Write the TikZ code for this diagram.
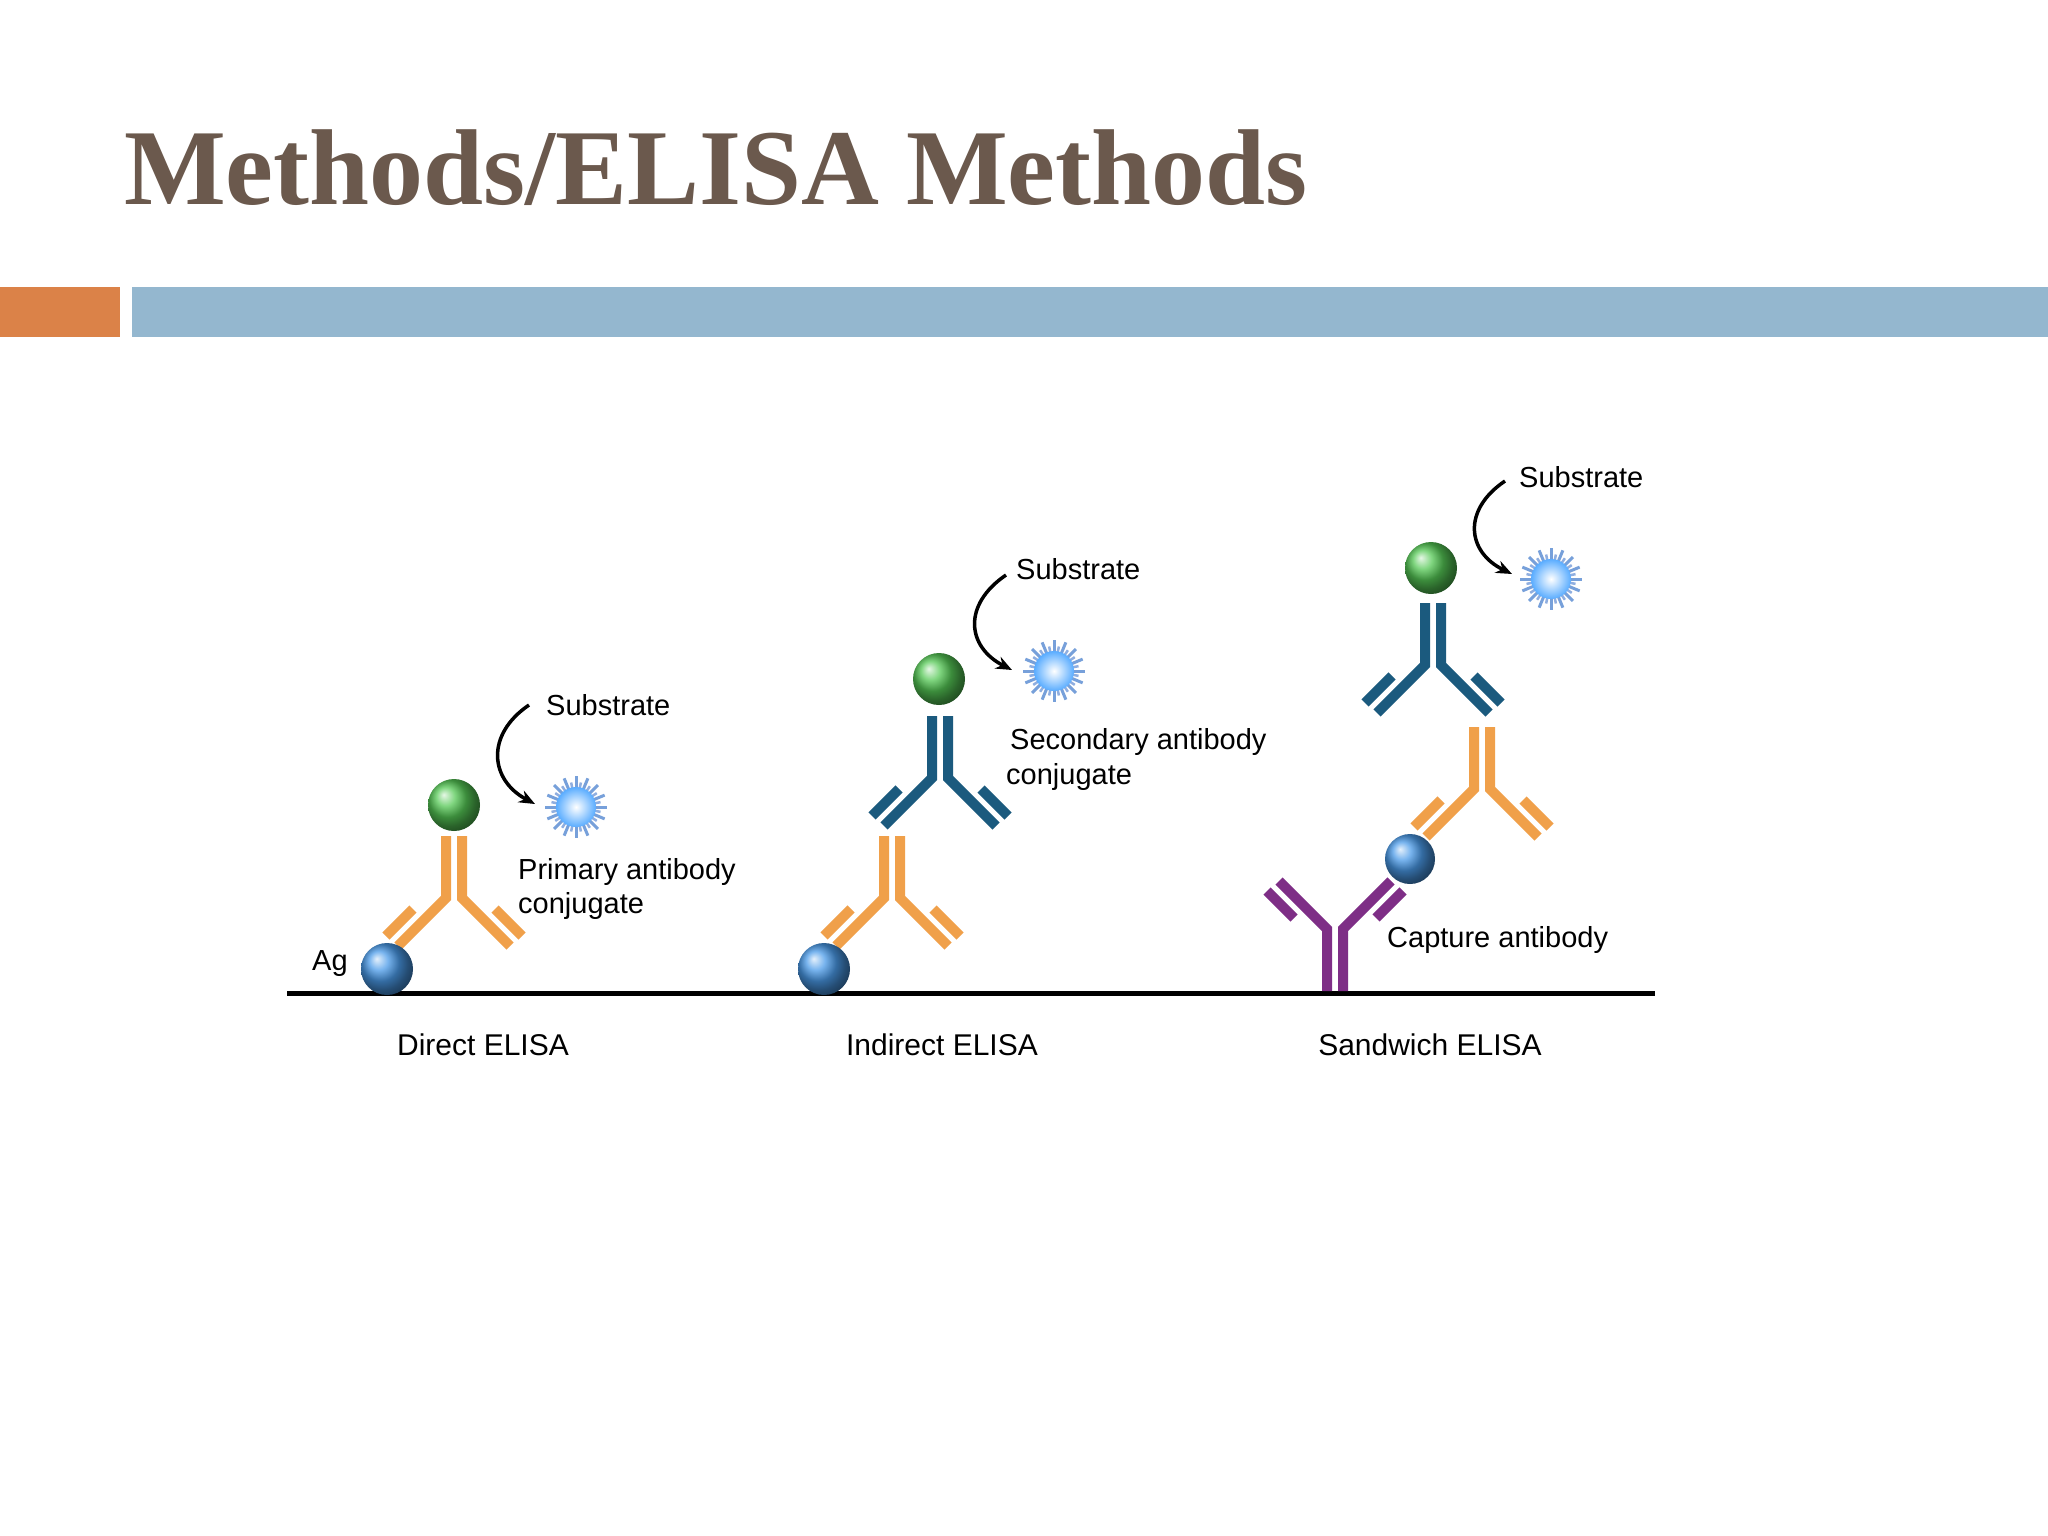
\documentclass[tikz,border=0pt]{standalone}
\usepackage{fontspec}
\setmainfont{Liberation Serif}
\setsansfont{Liberation Sans}
\usetikzlibrary{arrows.meta}
\definecolor{titlec}{HTML}{6B594D}
\definecolor{barorange}{HTML}{DB8248}
\definecolor{barblue}{HTML}{94B7CF}
\definecolor{aborange}{HTML}{F0A04A}
\definecolor{abblue}{HTML}{1B5A7E}
\definecolor{abpurple}{HTML}{7E2E86}
\definecolor{agblue}{HTML}{4A9AE8}
\definecolor{hrpgreen}{HTML}{55C855}
\tikzset{
  lbl/.style={font=\sffamily\fontsize{29}{32}\selectfont, anchor=west, inner sep=0pt},
  caplbl/.style={font=\sffamily\fontsize{30}{34}\selectfont, inner sep=0pt},
  subarrow/.style={line width=3.5pt, -{Stealth[length=16pt,width=13pt]}},
  pics/antibody/.style={code={
    \begin{scope}[line width=10pt, draw=#1]
    \draw (-8,0) -- (-8,62) -- (-56,110);
    \draw (8,0) -- (8,62) -- (56,110);
    \draw (-41,73) -- (-68,100);
    \draw (41,73) -- (68,100);
    \end{scope}}},
  pics/star/.style={code={
    \foreach \a in {0,22.5,...,337.5}{\draw[line width=3pt,color=cyan!50!blue!55] (\a:14) -- (\a:31);}
    \foreach \a in {11.25,33.75,...,348.75}{\draw[line width=2.5pt,color=cyan!50!blue!45] (\a:14) -- (\a:25);}
    \shade[inner color=white, outer color=cyan!50!blue!65] (0,0) circle (20);
  }},
  ball/.style={shading=ball, ball color=#1}
}
\begin{document}
\begin{tikzpicture}[x=1pt,y=-1pt]
\useasboundingbox (0,0) rectangle (2048,1536);
\fill[white] (0,0) rectangle (2048,1536);
% title
\node[anchor=south west, inner sep=0pt, text=titlec] (title) at (124,206)
  {\resizebox{1182pt}{!}{\bfseries Methods/ELISA Methods}};
\fill[barorange] (0,287) rectangle (120,337);
\fill[barblue] (132,287) rectangle (2048,337);
% baseline
\coordinate (bl) at (287,993);
\coordinate (br) at (1655,993);
\draw[line width=5pt] (bl) -- (br);
% Direct
\pic at (454,836) {antibody=aborange};
\shade[ball=agblue] (387,969) circle (26);
\shade[ball=hrpgreen] (454,805) circle (26);
\pic at (576,807) {star};
\coordinate (d1) at (529,705); \coordinate (d2) at (535,804);
\draw[subarrow] (d1) .. controls (485,735) and (490,780) .. (d2);
\node[lbl] (dsub) at (546,705) {Substrate};
\node[lbl] (dprim) at (518,872) {Primary antibody};
\node[lbl] (dconj) at (518,906) {conjugate};
\node[lbl] (ag) at (312,964) {Ag};
\node[caplbl] (dcap) at (483,1045) {Direct ELISA};
% Indirect
\pic at (892,836) {antibody=aborange};
\shade[ball=agblue] (824,969) circle (26);
\pic at (940,716) {antibody=abblue};
\shade[ball=hrpgreen] (939,679) circle (26);
\pic at (1054,671) {star};
\coordinate (i1) at (1006,575); \coordinate (i2) at (1012,670);
\draw[subarrow] (i1) .. controls (962,605) and (967,647) .. (i2);
\node[lbl] (isub) at (1016,569) {Substrate};
\node[lbl] (isec) at (1010,742) {Secondary antibody};
\node[lbl] (iconj) at (1006,777) {conjugate};
\node[caplbl] (icap) at (942,1045) {Indirect ELISA};
% Sandwich
\pic[yscale=-1] at (1335,991) {antibody=abpurple};
\pic at (1482,727) {antibody=aborange};
\shade[ball=agblue] (1410,859) circle (25);
\pic at (1433,603) {antibody=abblue};
\shade[ball=hrpgreen] (1431,568) circle (26);
\pic at (1551,579) {star};
\coordinate (s1) at (1505,481); \coordinate (s2) at (1512,574);
\draw[subarrow] (s1) .. controls (1462,510) and (1467,552) .. (s2);
\node[lbl] (ssub) at (1519,477) {Substrate};
\node[lbl] (scapab) at (1387,940) {Capture antibody};
\node[caplbl] (scap) at (1430,1045) {Sandwich ELISA};
\end{tikzpicture}
\end{document}
